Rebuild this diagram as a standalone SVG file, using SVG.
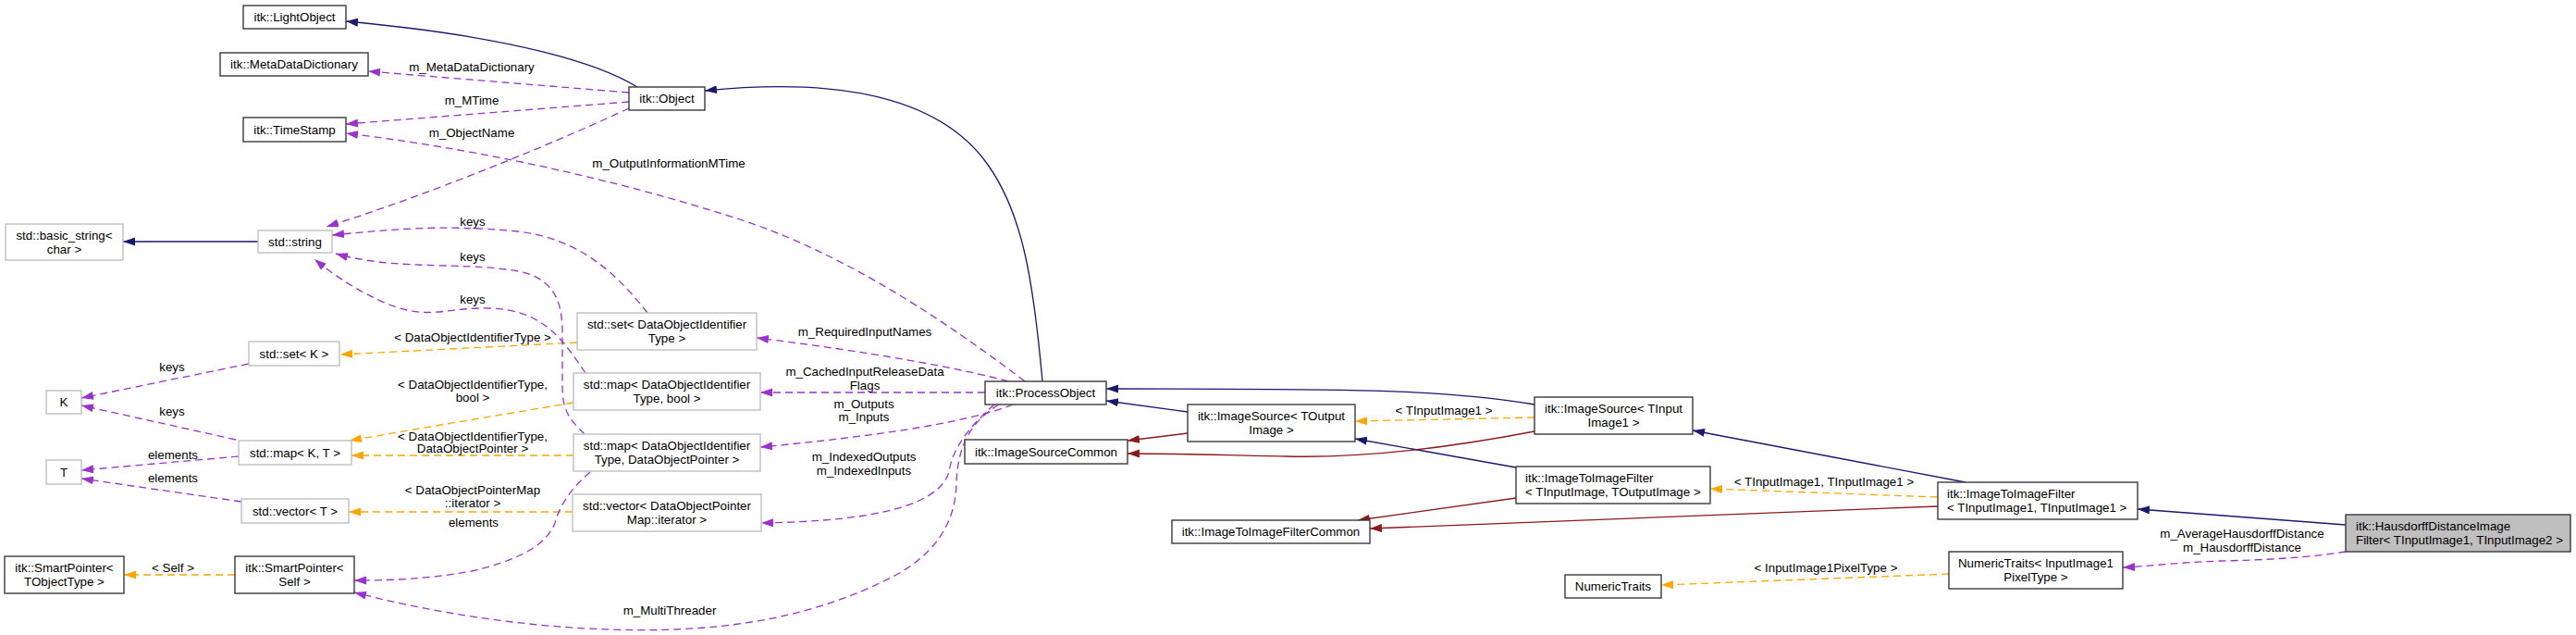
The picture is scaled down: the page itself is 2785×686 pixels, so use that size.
<svg xmlns="http://www.w3.org/2000/svg" width="2785" height="686" viewBox="0 0 2785 686">
<style>
.bg{fill:#fff}
.n rect{fill:#fff;stroke-width:1.4}
.doc rect{stroke:#3a3a3a}
.und rect{stroke:#bfbfbf}
.cur rect{fill:#bfbfbf;stroke:#3a3a3a}
text{font-family:"Liberation Sans",Arial,Helvetica,sans-serif;font-size:13.33px;fill:#000}
.m{text-anchor:middle}
.e path{fill:none;stroke-width:1.3}
.inh{stroke:#191970;marker-end:url(#aN)}
.prv{stroke:#8b1a1a;marker-end:url(#aR)}
.tpl{stroke:#ffa500;stroke-dasharray:8,5;marker-end:url(#aO)}
.use{stroke:#9a32cd;stroke-dasharray:8,5;marker-end:url(#aP)}
</style>
<defs>
<marker id="aN" markerUnits="userSpaceOnUse" markerWidth="14" markerHeight="10" refX="13" refY="4.5" orient="auto"><path d="M0,0 L13,4.5 L0,9 z" fill="#191970"/></marker>
<marker id="aR" markerUnits="userSpaceOnUse" markerWidth="14" markerHeight="10" refX="13" refY="4.5" orient="auto"><path d="M0,0 L13,4.5 L0,9 z" fill="#8b1a1a"/></marker>
<marker id="aO" markerUnits="userSpaceOnUse" markerWidth="14" markerHeight="10" refX="13" refY="4.5" orient="auto"><path d="M0,0 L13,4.5 L0,9 z" fill="#ffa500"/></marker>
<marker id="aP" markerUnits="userSpaceOnUse" markerWidth="14" markerHeight="10" refX="13" refY="4.5" orient="auto"><path d="M0,0 L13,4.5 L0,9 z" fill="#9a32cd"/></marker>
</defs>
<rect class="bg" x="0" y="0" width="2785" height="686"/>

<g id="edges" class="e">
<path class="inh" d="M689,94 C650,70 560,40 374,23"/>
<path class="inh" d="M1127,412 C1117,300 1105,230 1068,178 C1020,110 920,82 762,98"/>
<path class="inh" d="M1284,445 L1196,433"/>
<path class="inh" d="M1659,437 C1560,420 1450,420 1196,420"/>
<path class="inh" d="M1639,505 L1465,474"/>
<path class="inh" d="M2125,521 L1830,465"/>
<path class="inh" d="M2536,567 L2311,550"/>
<path class="inh" d="M279,261 L133,261"/>
<path class="prv" d="M1284,468 L1219,476"/>
<path class="prv" d="M1659,466 C1560,485 1470,495 1390,493 C1330,492 1280,490 1219,490"/>
<path class="prv" d="M1639,538 L1468,562"/>
<path class="prv" d="M2095,547 L1481,571"/>
<path class="tpl" d="M1659,451 L1465,455"/>
<path class="tpl" d="M2095,537 L1849,528"/>
<path class="tpl" d="M2107,620 L1796,632"/>
<path class="tpl" d="M624,370 L368,383"/>
<path class="tpl" d="M620,435 C560,445 470,460 378,476"/>
<path class="tpl" d="M620,492 L380,492"/>
<path class="tpl" d="M619,553 L377,553"/>
<path class="tpl" d="M254,621 L134,621"/>
<path class="use" d="M680,100 L398,77"/>
<path class="use" d="M680,110 L374,134"/>
<path class="use" d="M680,117 C620,145 480,205 353,245"/>
<path class="use" d="M1108,412 C1000,330 900,270 800,237 C700,205 550,165 374,144"/>
<path class="use" d="M700,338 C670,300 630,258 560,250 C480,242 420,248 359,254"/>
<path class="use" d="M632,469 C612,450 608,440 608,415 L608,355 C607,320 595,300 560,293 C500,282 430,293 363,274"/>
<path class="use" d="M633,403 C610,370 590,335 530,333 C490,332 470,342 440,335 C410,328 370,305 340,280"/>
<path class="use" d="M269,393 L88,430"/>
<path class="use" d="M255,475 L88,438"/>
<path class="use" d="M258,493 L88,508"/>
<path class="use" d="M261,542 L88,517"/>
<path class="use" d="M638,510 C620,525 605,545 600,565 C590,590 560,605 510,617 C460,626 420,627 383,627"/>
<path class="use" d="M1090,412 C1040,398 940,380 818,365"/>
<path class="use" d="M1065,424 L822,424"/>
<path class="use" d="M1095,437 C1050,455 960,470 822,483"/>
<path class="use" d="M1075,437 C1055,455 1030,480 1026,510 C1015,545 950,563 823,565"/>
<path class="use" d="M1080,437 C1050,455 1036,480 1034,520 C1034,560 1015,600 957,627 C890,660 800,685 660,680 C560,677 460,660 383,640"/>
<path class="use" d="M2536,596 C2500,602 2450,605 2400,606 C2350,608 2320,612 2295,613"/>
</g>

<g id="edge-labels">
<text class="m" x="510" y="77">m_MetaDataDictionary</text>
<text class="m" x="510" y="113">m_MTime</text>
<text class="m" x="510" y="148">m_ObjectName</text>
<text class="m" x="723" y="181">m_OutputInformationMTime</text>
<text class="m" x="511" y="244">keys</text>
<text class="m" x="511" y="282">keys</text>
<text class="m" x="511" y="328">keys</text>
<text class="m" x="511" y="369">&lt; DataObjectIdentifierType &gt;</text>
<text class="m" x="511" y="420">&lt; DataObjectIdentifierType,</text>
<text class="m" x="511" y="434">bool &gt;</text>
<text class="m" x="186" y="401">keys</text>
<text class="m" x="186" y="449">keys</text>
<text class="m" x="511" y="476">&lt; DataObjectIdentifierType,</text>
<text class="m" x="511" y="489">DataObjectPointer &gt;</text>
<text class="m" x="187" y="496">elements</text>
<text class="m" x="187" y="521">elements</text>
<text class="m" x="511" y="534">&lt; DataObjectPointerMap</text>
<text class="m" x="511" y="548">::iterator &gt;</text>
<text class="m" x="512" y="569">elements</text>
<text class="m" x="187" y="618">&lt; Self &gt;</text>
<text class="m" x="724" y="664">m_MultiThreader</text>
<text class="m" x="935" y="363">m_RequiredInputNames</text>
<text class="m" x="935" y="406">m_CachedInputReleaseData</text>
<text class="m" x="935" y="421">Flags</text>
<text class="m" x="934" y="441">m_Outputs</text>
<text class="m" x="934" y="455">m_Inputs</text>
<text class="m" x="934" y="498">m_IndexedOutputs</text>
<text class="m" x="934" y="513">m_IndexedInputs</text>
<text class="m" x="1561" y="448">&lt; TInputImage1 &gt;</text>
<text class="m" x="1972" y="525">&lt; TInputImage1, TInputImage1 &gt;</text>
<text class="m" x="1974" y="618">&lt; InputImage1PixelType &gt;</text>
<text class="m" x="2424" y="581">m_AverageHausdorffDistance</text>
<text class="m" x="2424" y="596">m_HausdorffDistance</text>
</g>

<g id="n_lightobject" class="n doc"><rect x="263" y="6" width="111" height="25"/><text class="m" x="318.5" y="23">itk::LightObject</text></g>
<g id="n_metadatadictionary" class="n doc"><rect x="238" y="57" width="160" height="25"/><text class="m" x="318" y="74">itk::MetaDataDictionary</text></g>
<g id="n_timestamp" class="n doc"><rect x="263" y="127" width="111" height="26"/><text class="m" x="318.5" y="145">itk::TimeStamp</text></g>
<g id="n_object" class="n doc"><rect x="680" y="94" width="82" height="25"/><text class="m" x="721" y="111">itk::Object</text></g>
<g id="n_basic_string" class="n und"><rect x="6" y="242" width="127" height="39"/><text class="m" x="69.5" y="259">std::basic_string&lt;</text><text class="m" x="69.5" y="274">char &gt;</text></g>
<g id="n_string" class="n und"><rect x="279" y="249" width="80" height="24"/><text class="m" x="319" y="266">std::string</text></g>
<g id="n_setK" class="n und"><rect x="269" y="369" width="98" height="26"/><text class="m" x="318" y="387">std::set&lt; K &gt;</text></g>
<g id="n_K" class="n und"><rect x="50" y="422" width="38" height="25"/><text class="m" x="69" y="439">K</text></g>
<g id="n_mapKT" class="n und"><rect x="258" y="476" width="122" height="26"/><text class="m" x="319" y="494">std::map&lt; K, T &gt;</text></g>
<g id="n_T" class="n und"><rect x="50" y="497" width="38" height="26"/><text class="m" x="69" y="515">T</text></g>
<g id="n_vectorT" class="n und"><rect x="261" y="539" width="116" height="26"/><text class="m" x="319" y="557">std::vector&lt; T &gt;</text></g>
<g id="n_smartpointer_tobject" class="n doc"><rect x="5" y="601" width="129" height="40"/><text class="m" x="69.5" y="618">itk::SmartPointer&lt;</text><text class="m" x="69.5" y="633">TObjectType &gt;</text></g>
<g id="n_smartpointer_self" class="n doc"><rect x="254" y="601" width="129" height="40"/><text class="m" x="318.5" y="618">itk::SmartPointer&lt;</text><text class="m" x="318.5" y="633">Self &gt;</text></g>
<g id="n_set_doi" class="n und"><rect x="624" y="338" width="194" height="40"/><text class="m" x="721" y="355">std::set&lt; DataObjectIdentifier</text><text class="m" x="721" y="370">Type &gt;</text></g>
<g id="n_map_bool" class="n und"><rect x="620" y="403" width="202" height="40"/><text class="m" x="721" y="420">std::map&lt; DataObjectIdentifier</text><text class="m" x="721" y="435">Type, bool &gt;</text></g>
<g id="n_map_dop" class="n und"><rect x="620" y="469" width="202" height="40"/><text class="m" x="721" y="486">std::map&lt; DataObjectIdentifier</text><text class="m" x="721" y="501">Type, DataObjectPointer &gt;</text></g>
<g id="n_vector_iter" class="n und"><rect x="619" y="534" width="204" height="40"/><text class="m" x="721" y="551">std::vector&lt; DataObjectPointer</text><text class="m" x="721" y="566">Map::iterator &gt;</text></g>
<g id="n_processobject" class="n doc"><rect x="1065" y="412" width="131" height="25"/><text class="m" x="1130.5" y="429">itk::ProcessObject</text></g>
<g id="n_imagesource_out" class="n doc"><rect x="1284" y="437" width="181" height="40"/><text class="m" x="1374.5" y="454">itk::ImageSource&lt; TOutput</text><text class="m" x="1374.5" y="469">Image &gt;</text></g>
<g id="n_imagesourcecommon" class="n doc"><rect x="1043" y="475" width="176" height="26"/><text class="m" x="1131" y="493">itk::ImageSourceCommon</text></g>
<g id="n_imagetoimagefiltercommon" class="n doc"><rect x="1267" y="562" width="214" height="25"/><text class="m" x="1374" y="579">itk::ImageToImageFilterCommon</text></g>
<g id="n_imagesource_in" class="n doc"><rect x="1659" y="429" width="171" height="40"/><text class="m" x="1744.5" y="446">itk::ImageSource&lt; TInput</text><text class="m" x="1744.5" y="461">Image1 &gt;</text></g>
<g id="n_i2i_generic" class="n doc"><rect x="1639" y="504" width="210" height="40"/><text x="1649" y="521">itk::ImageToImageFilter</text><text x="1649" y="536">&lt; TInputImage, TOutputImage &gt;</text></g>
<g id="n_i2i_11" class="n doc"><rect x="2095" y="521" width="216" height="40"/><text x="2105" y="538">itk::ImageToImageFilter</text><text x="2105" y="553">&lt; TInputImage1, TInputImage1 &gt;</text></g>
<g id="n_hausdorff" class="n cur"><rect x="2536" y="556" width="243" height="40"/><text x="2547" y="573">itk::HausdorffDistanceImage</text><text x="2547" y="588">Filter&lt; TInputImage1, TInputImage2 &gt;</text></g>
<g id="n_numerictraits_pix" class="n doc"><rect x="2107" y="596" width="188" height="40"/><text class="m" x="2201" y="613">NumericTraits&lt; InputImage1</text><text class="m" x="2201" y="628">PixelType &gt;</text></g>
<g id="n_numerictraits" class="n doc"><rect x="1692" y="621" width="104" height="25"/><text class="m" x="1744" y="638">NumericTraits</text></g>
</svg>
